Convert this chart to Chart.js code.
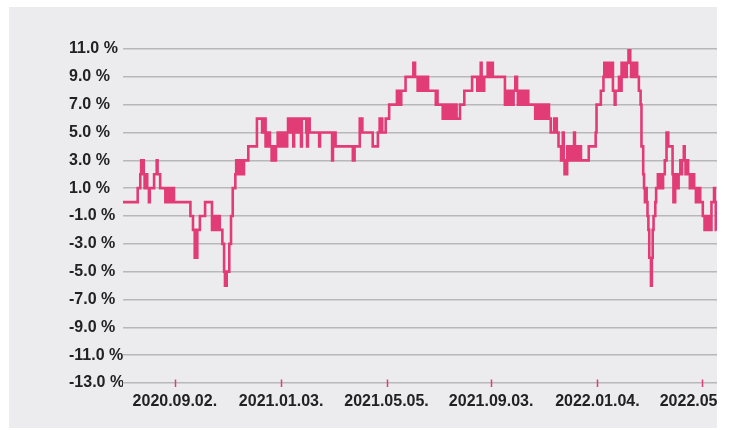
<!DOCTYPE html>
<html>
<head>
<meta charset="utf-8">
<script src="https://cdn.jsdelivr.net/npm/chart.js@4.4.1/dist/chart.umd.min.js"></script>
<style>
  html, body { margin: 0; padding: 0; background: #ffffff; width: 729px; height: 430px; overflow: hidden; }
  #wrap { position: absolute; left: 9px; top: 7px; width: 708px; height: 421px; overflow: hidden; background: #ececee; }
  #c { position: absolute; left: 0; top: 0; }
</style>
</head>
<body>
<div id="wrap"><canvas id="c" width="800" height="421"></canvas></div>
<script>
// Base date for day offsets
const baseDate = '2020-07-04';

// Day offsets (from baseDate) where the value changes
const days = [
  0,17,20,21,22,23,24,25,27,28,30,31,36,39,40,43,49,51,52,54,56,57,59,
  78,81,83,86,89,95,103,105,108,110,112,115,117,118,120,123,125,127,130,131,133,135,138,140,145,155,
  161,163,165,168,170,172,174,175,177,179,180,181,182,184,185,187,188,190,
  191,192,194,195,197,198,200,202,203,205,206,207,
  212,213,214,215,216,227,228,242,243,246,266,268,274,277,289,295,297,300,304,308,317,319,322,327,336,338,
  341,344,345,348,349,352,353,362,363,364,
  370,373,374,377,378,381,382,385,386,390,
  395,404,410,411,413,414,415,416,418,422,423,424,426,427,428,
  442,444,445,448,449,452,454,456,457,459,460,463,464,467,469,
  477,480,481,484,485,488,489,491,493,495,499,502,504,507,509,510,511,
  514,516,518,521,522,523,525,528,530,539,547,548,
  553,556,557,559,560,561,563,564,565,567,569,570,574,576,577,578,579,581,583,585,587,588,589,590,591,593,594,595,597,599,
  600,602,603,604,605,606,607,608,609,611,612,613,614,616,617,619,622,625,627,629,631,
  636,637,639,640,641,642,643,645,646,647,649,650,651,652,654,656,657,658,659,661,663,665,666,667,668,
  671,673,676,678,681,684,685,686,687
];

// Return values (%)
const values = [
  0,1,2,3,2,3,2,1,2,1,0,1,2,3,2,1,0,1,0,1,0,1,0,
  -1,-2,-4,-2,-1,0,-2,-1,-2,-1,-2,-3,-5,-6,-5,-3,-1,1,2,3,2,3,2,3,4,6,
  5,6,4,5,4,3,4,3,4,5,4,5,4,5,4,5,4,5,
  6,5,6,5,4,6,5,6,5,6,4,6,
  5,4,5,6,5,4,5,3,5,4,3,4,6,5,4,5,6,5,6,7,8,7,8,9,10,9,
  8,9,8,9,8,9,8,7,8,7,
  6,7,6,7,6,7,6,7,6,7,
  8,9,8,9,8,10,9,8,9,10,9,10,9,10,9,
  7,8,7,8,7,8,9,8,7,8,7,8,7,8,7,
  6,7,6,7,6,7,6,7,6,5,6,5,4,3,5,3,2,
  4,3,4,3,5,4,3,4,3,4,5,7,
  8,9,10,9,10,9,10,9,10,8,7,8,9,8,10,9,10,9,10,11,10,9,10,9,10,9,10,9,8,7,
  4,2,1,0,1,0,-1,-2,-4,-6,-4,-2,-1,0,1,2,1,2,3,5,4,
  2,0,2,1,2,1,2,3,2,3,4,3,2,3,2,1,2,1,2,1,0,1,0,1,0,
  -1,-2,-1,-2,0,1,0,-2,-2
];

// X axis tick labels (dates)
const tickLabels = ['2020.09.02.','2021.01.03.','2021.05.05.','2021.09.03.','2022.01.04.','2022.05.05.'];

// Y axis range (%)
const yMin = -13, yMax = 11, yStep = 2;

function dayOffset(label) {
  const p = label.split('.').filter(Boolean).map(Number);
  const b = baseDate.split('-').map(Number);
  return Math.round((Date.UTC(p[0], p[1]-1, p[2]) - Date.UTC(b[0], b[1]-1, b[2])) / 86400000);
}
const tickDays = tickLabels.map(dayOffset);

const n = Math.min(days.length, values.length);
const points = days.slice(0, n).map((d, i) => ({ x: d, y: values[i] }));

const PINK = '#e23c77';
const FONT = { family: "'Liberation Sans', Arial, sans-serif", size: 16, weight: 'bold' };

const xTickMarks = {
  id: 'xTickMarks',
  afterDraw(chart) {
    const { ctx, scales: { x }, chartArea } = chart;
    ctx.save();
    ctx.strokeStyle = PINK;
    ctx.lineWidth = 1.5;
    x.ticks.forEach(t => {
      const px = Math.round(x.getPixelForValue(t.value)) + 0.5;
      ctx.beginPath();
      ctx.moveTo(px, chartArea.bottom - 3.5);
      ctx.lineTo(px, chartArea.bottom + 4);
      ctx.stroke();
    });
    ctx.restore();
  }
};

new Chart(document.getElementById('c'), {
  type: 'line',
  data: {
    datasets: [{
      data: points,
      borderColor: PINK,
      borderWidth: 2.6,
      pointRadius: 0,
      stepped: true,
      fill: false
    }]
  },
  options: {
    responsive: false,
    animation: false,
    devicePixelRatio: 1,
    layout: { padding: { left: 60, top: 42, right: 12, bottom: 5 } },
    plugins: { legend: { display: false }, tooltip: { enabled: false } },
    scales: {
      x: {
        type: 'linear',
        min: 0,
        max: 780,
        afterBuildTicks: s => { s.ticks = tickDays.map(v => ({ value: v })); },
        afterFit: s => { s.height = 40; },
        ticks: {
          autoSkip: false,
          maxRotation: 0,
          padding: 9,
          color: '#222222',
          font: FONT,
          callback: (v) => { const i = tickDays.indexOf(v); return i >= 0 ? tickLabels[i] : ''; }
        },
        grid: { display: true, drawOnChartArea: false, drawTicks: false, color: 'rgba(0,0,0,0)' },
        border: { display: false }
      },
      y: {
        min: yMin,
        max: yMax,
        afterFit: s => { s.width = 54; },
        ticks: {
          stepSize: yStep,
          crossAlign: 'far',
          padding: 0,
          color: '#222222',
          font: FONT,
          callback: v => v.toFixed(1) + ' %'
        },
        grid: { color: '#b8b8ba', lineWidth: 1.5, drawTicks: false },
        border: { display: false }
      }
    }
  },
  plugins: [xTickMarks]
});
</script>
</body>
</html>
